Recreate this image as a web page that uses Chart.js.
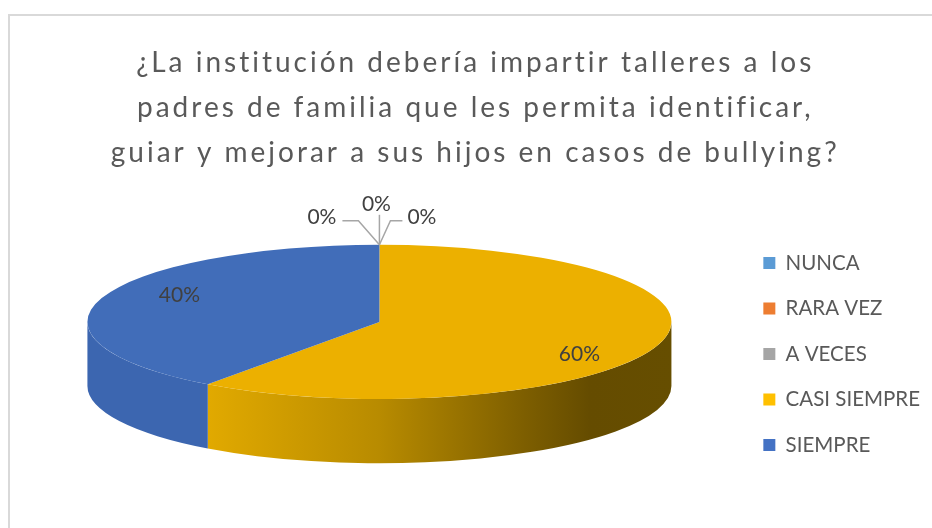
<!DOCTYPE html>
<html>
<head>
<meta charset="utf-8">
<script src="https://cdn.jsdelivr.net/npm/chart.js@4.4.1/dist/chart.umd.min.js"></script>
<style>
  html, body { margin: 0; padding: 0; background: #fff; }
  #wrap { position: relative; width: 932px; height: 528px; overflow: hidden; }
  #frame { position: absolute; left: 8px; top: 14px; width: 1000px; height: 1000px; border: 2px solid #d9d9d9; }
  canvas { position: absolute; left: 0; top: 0; }
</style>
</head>
<body>
<div id="wrap">
  <div id="frame"></div>
  <canvas id="pieChart" width="932" height="528"></canvas>
</div>
<script>
const titleLines = [
  '¿La institución debería impartir talleres a los',
  'padres de familia que les permita identificar,',
  'guiar y mejorar a sus hijos en casos de bullying?'
];
const categories = ['NUNCA', 'RARA VEZ', 'A VECES', 'CASI SIEMPRE', 'SIEMPRE'];
const percentages = [0, 0, 0, 60, 40];

// colours: legend keys, lit top face, side walls
const legendColors = ['#5B9BD5', '#ED7D31', '#A5A5A5', '#FFC000', '#4472C4'];
const topColors = ['#5B9BD5', '#ED7D31', '#A5A5A5', '#ECB000', '#416DB9'];
const sideColors = ['#4F88BD', '#C9682A', '#8C8C8C', null, '#3C66B0'];

const TILT = 0.264;        // squash of the top face
const DEPTH = 0.22;        // wall height, share of radius

function ellipseOf(chart) {
  const arc = chart.getDatasetMeta(0).data[0];
  const rx = arc.outerRadius;
  const depth = rx * DEPTH;
  return { cx: arc.x, cy: arc.y - depth / 2, baseY: arc.y, rx: rx, ry: rx * TILT, depth: depth };
}

function sideFill(ctx, e, i) {
  if (sideColors[i]) return sideColors[i];
  const g = ctx.createLinearGradient(e.cx - e.rx, 0, e.cx + e.rx, 0);
  g.addColorStop(0, '#F0B400');
  g.addColorStop(0.2, '#E2AA00');
  g.addColorStop(0.5, '#B88B00');
  g.addColorStop(0.75, '#7D5E00');
  g.addColorStop(0.86, '#654C00');
  g.addColorStop(1, '#664E00');
  return g;
}

// the title is set wider, like the original's spaced-out text
const titleSpacing = {
  id: 'titleSpacing',
  afterInit(chart) {
    const block = chart.titleBlock;
    const draw = block.draw.bind(block);
    block.draw = function(area) {
      chart.ctx.save();
      chart.ctx.letterSpacing = '3px';
      draw(area);
      chart.ctx.restore();
    };
  }
};

const pie3d = {
  id: 'pie3d',
  beforeDatasetsDraw(chart) {
    const ctx = chart.ctx;
    const e = ellipseOf(chart);
    chart.getDatasetMeta(0).data.forEach((arc, i) => {
      const a = Math.max(arc.startAngle, 0);
      const b = Math.min(arc.endAngle, Math.PI);
      if (b <= a) return;
      ctx.beginPath();
      ctx.ellipse(e.cx, e.cy, e.rx, e.ry, 0, a, b);
      ctx.ellipse(e.cx, e.cy + e.depth, e.rx, e.ry, 0, b, a, true);
      ctx.closePath();
      ctx.fillStyle = sideFill(ctx, e, i);
      ctx.fill();
    });
    ctx.save();
    ctx.translate(e.cx, e.cy);
    ctx.scale(1, TILT);
    ctx.translate(-e.cx, -e.baseY);
  },
  afterDatasetsDraw(chart) {
    const ctx = chart.ctx;
    ctx.restore();
    const e = ellipseOf(chart);
    const values = chart.data.datasets[0].data;
    ctx.save();
    ctx.font = '21px Lato';
    ctx.fillStyle = '#404040';
    ctx.strokeStyle = '#A6A6A6';
    ctx.lineWidth = 1.5;
    ctx.textBaseline = 'middle';
    let zero = 0;
    chart.getDatasetMeta(0).data.forEach((arc, i) => {
      const mid = (arc.startAngle + arc.endAngle) / 2;
      const text = values[i] + '%';
      if (values[i] === 0) {
        const ax = e.cx + e.rx * Math.cos(mid);
        const ay = e.cy + e.ry * Math.sin(mid);
        ctx.beginPath();
        ctx.moveTo(ax, ay);
        if (zero === 0) {
          ctx.lineTo(ax - 21, ay - 24);
          ctx.lineTo(ax - 37, ay - 24);
          ctx.stroke();
          ctx.textAlign = 'right';
          ctx.fillText(text, ax - 43, ay - 28);
        } else if (zero === 1) {
          ctx.lineTo(ax, ay - 30);
          ctx.stroke();
          ctx.textAlign = 'center';
          ctx.fillText(text, ax - 3, ay - 41);
        } else {
          ctx.lineTo(ax + 11, ay - 24);
          ctx.lineTo(ax + 23, ay - 24);
          ctx.stroke();
          ctx.textAlign = 'left';
          ctx.fillText(text, ax + 28, ay - 28);
        }
        zero++;
      } else {
        ctx.textAlign = 'center';
        ctx.fillText(text,
          e.cx + 0.72 * e.rx * Math.cos(mid),
          e.cy + 1.24 * e.ry * Math.sin(mid) + 3);
      }
    });
    ctx.restore();
  }
};

Chart.defaults.font.family = 'Lato';

new Chart(document.getElementById('pieChart').getContext('2d'), {
  type: 'pie',
  data: {
    labels: categories,
    datasets: [{
      data: percentages,
      backgroundColor: topColors,
      borderWidth: 0,
      radius: 292,
      clip: false
    }]
  },
  options: {
    responsive: false,
    animation: false,
    events: [],
    layout: { padding: { left: 20.5, right: 2, top: 0, bottom: 0 } },
    plugins: {
      title: {
        display: true,
        text: titleLines,
        color: '#595959',
        font: { size: 28, weight: 'normal', lineHeight: 45 / 28 },
        padding: { top: 40, bottom: 5 }
      },
      legend: {
        position: 'right',
        align: 'center',
        fullSize: false,
        labels: {
          boxWidth: 12,
          boxHeight: 12,
          padding: 25,
          color: '#595959',
          font: { size: 20.5 },
          generateLabels(chart) {
            const items = Chart.overrides.pie.plugins.legend.labels.generateLabels(chart);
            items.forEach((it, i) => {
              it.fillStyle = legendColors[i];
              it.strokeStyle = legendColors[i];
              it.lineWidth = 0;
            });
            return items;
          }
        }
      },
      tooltip: { enabled: false }
    }
  },
  plugins: [titleSpacing, pie3d]
});
</script>
</body>
</html>
